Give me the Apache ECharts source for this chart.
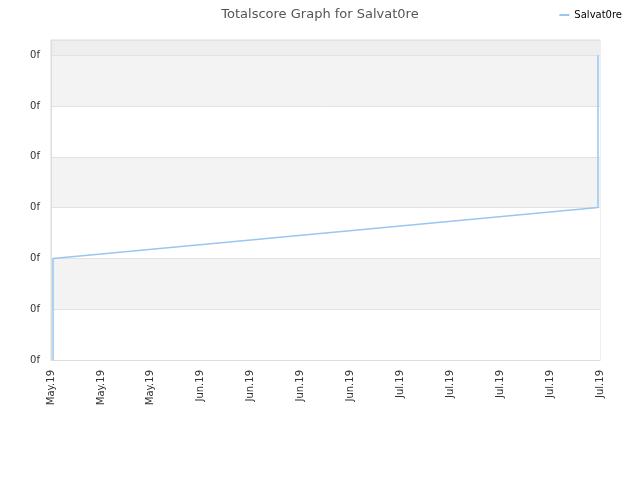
<!DOCTYPE html>
<html><head><meta charset="utf-8">
<script src="https://cdn.jsdelivr.net/npm/echarts@6/dist/echarts.min.js"></script>
<style>html,body{margin:0;padding:0;background:#fff}#c{width:640px;height:480px}</style>
</head><body><div id="c"></div>
<script>
var xTickLabels = ['May.19','May.19','May.19','Jun.19','Jun.19','Jun.19','Jun.19','Jul.19','Jul.19','Jul.19','Jul.19','Jul.19'];
var yTickLabels = ['0f','0f','0f','0f','0f','0f','0f'];
var seriesName = 'Salvat0re';
var xValues = [0.04, 0.04, 10.96, 10.96];
var yValues = [0, 2, 3, 6];

var chart = echarts.init(document.getElementById('c'), null, {renderer:'canvas'});
chart.setOption({
  animation:false,
  textStyle:{fontFamily:'DejaVu Sans'},
  title:{text:'Totalscore Graph for Salvat0re', left:'center', top:3,
    textStyle:{fontSize:13, fontWeight:'normal', color:'#555', fontFamily:'DejaVu Sans'}},
  legend:{right:13, top:5, itemWidth:10, itemHeight:2, icon:'rect',
    textStyle:{fontSize:10, color:'#000', fontFamily:'DejaVu Sans'},
    data:[seriesName]},
  grid:{left:51, right:40, top:40, bottom:120, show:true, borderColor:'#dddddd', borderWidth:1},
  xAxis:{type:'value', min:0, max:11, interval:1,
    axisLine:{show:true, lineStyle:{color:'#dddddd'}}, axisTick:{show:false},
    splitLine:{show:false},
    axisLabel:{rotate:90, fontSize:10, color:'#333', margin:10,
      formatter:function(v){return xTickLabels[Math.round(v)]||'';}}},
  yAxis:{type:'value', min:0, max:6.3, interval:1,
    axisLine:{show:true, lineStyle:{color:'#dddddd'}}, axisTick:{show:false},
    splitLine:{show:true, lineStyle:{color:'#e2e2e2'}},
    splitArea:{show:true, areaStyle:{color:['#ffffff','#f3f3f3','#ffffff','#f3f3f3','#ffffff','#f3f3f3','#eeeeee']}},
    axisLabel:{fontSize:10, color:'#333', margin:11, showMaxLabel:false,
      formatter:function(v){return (Math.abs(v-Math.round(v))<1e-6 && yTickLabels[Math.round(v)]!==undefined)?yTickLabels[Math.round(v)]:'';}}},
  series:[{name:seriesName, type:'line', symbol:'none',
    lineStyle:{color:'#99c6f2', width:1.5}, itemStyle:{color:'#99c6f2'},
    data:xValues.map(function(x,i){return [x,yValues[i]];})}]
});
</script></body></html>
